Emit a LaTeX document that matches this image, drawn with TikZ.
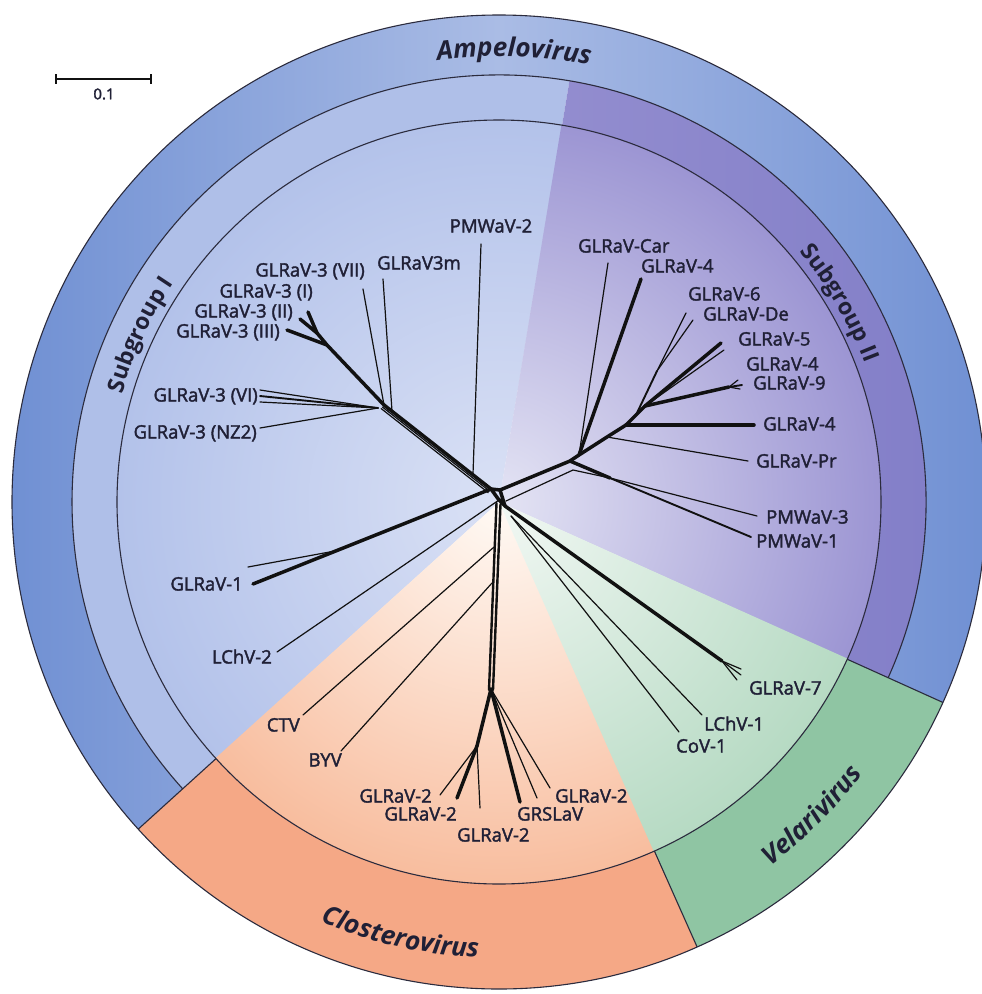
\documentclass[tikz,border=0pt]{standalone}
\usepackage{fontspec}
\setmainfont{Open Sans}
\newfontfamily\labfam{Open Sans}[FakeBold=2]
\usetikzlibrary{calc,decorations.text}
\definecolor{ampDark}{HTML}{7090D3}
\definecolor{ampLight}{HTML}{AABCE5}
\definecolor{sgIring}{HTML}{AFBFE8}
\definecolor{sgIin}{HTML}{DAE1F5}
\definecolor{sgIout}{HTML}{B3C2EA}
\definecolor{sgIIringL}{HTML}{958FD0}
\definecolor{sgIIringR}{HTML}{837FC8}
\definecolor{sgIIin}{HTML}{E4E4F4}
\definecolor{sgIIout}{HTML}{9C95D3}
\definecolor{closBand}{HTML}{F5A886}
\definecolor{closIn}{HTML}{FFFAF5}
\definecolor{closOut}{HTML}{F8BD9E}
\definecolor{velBand}{HTML}{8FC5A3}
\definecolor{velIn}{HTML}{F2F8F4}
\definecolor{velOut}{HTML}{B6DAC3}
\definecolor{rimcol}{HTML}{2B2B3D}
\definecolor{labcol}{HTML}{202036}
\definecolor{treecol}{HTML}{111111}
\newcommand{\labfont}{\labfam\fontsize{18.5}{20}\selectfont}
\newcommand{\genfont}{\fontsize{26}{30}\selectfont\bfseries\itshape\color{labcol}}
\newcommand{\sgfont}{\fontsize{23}{26}\selectfont\bfseries\color{labcol}}
\tikzset{
  rim/.style={draw=rimcol, line width=1.1pt},
  brthin/.style={draw=treecol, line width=1.2pt, line cap=round},
  brmed/.style={draw=treecol, line width=1.9pt, line cap=round},
  brtrunk/.style={draw=treecol, line width=2.4pt, line cap=round},
  brthick/.style={draw=treecol, line width=3.5pt, line cap=round, line join=round},
  lab/.style={font=\labfont, text=labcol, inner sep=0pt},
}
\begin{document}
\begin{tikzpicture}[x=1pt,y=1pt]
\useasboundingbox (0,0) rectangle (982,-994);
\fill[white] (0,0) rectangle (982,-994);

\begin{scope}[shift={(499,-502)}]
 % ---- Ampelovirus outer ring
 \begin{scope}
  \clip (-24.3:427) arc[start angle=-24.3,end angle=222.2,radius=427pt] -- (222.2:487) arc[start angle=222.2,end angle=-24.3,radius=487pt] -- cycle;
  \shade[left color=ampDark,right color=ampDark,middle color=ampLight] (-487,-487) rectangle (487,487);
 \end{scope}
 % ---- Closterovirus band
 \fill[closBand] (222.2:382) arc[start angle=222.2,end angle=294,radius=382pt] -- (294:487) arc[start angle=294,end angle=222.2,radius=487pt] -- cycle;
 % ---- Velarivirus band
 \fill[velBand] (294:382) arc[start angle=294,end angle=335.7,radius=382pt] -- (335.7:487) arc[start angle=335.7,end angle=294,radius=487pt] -- cycle;
 % ---- Subgroup rings
 \fill[sgIring] (80.5:382) arc[start angle=80.5,end angle=222.2,radius=382pt] -- (222.2:427) arc[start angle=222.2,end angle=80.5,radius=427pt] -- cycle;
 \begin{scope}
  \clip (-24.3:382) arc[start angle=-24.3,end angle=80.5,radius=382pt] -- (80.5:427) arc[start angle=80.5,end angle=-24.3,radius=427pt] -- cycle;
  \shade[left color=sgIIringL,right color=sgIIringR] (0,-427) rectangle (427,427);
 \end{scope}
 % ---- inner wedges
 \begin{scope}
  \clip (0,0) -- (80.5:383) arc[start angle=80.5,end angle=222.2,radius=383pt] -- cycle;
  \shade[inner color=sgIin,outer color=sgIout] (0,0) circle[radius=382pt];
 \end{scope}
 \begin{scope}
  \clip (0,0) -- (-24.3:383) arc[start angle=-24.3,end angle=80.6,radius=383pt] -- cycle;
  \shade[inner color=sgIIin,outer color=sgIIout] (0,0) circle[radius=382pt];
 \end{scope}
 \begin{scope}
  \clip (0,0) -- (222.1:383) arc[start angle=222.1,end angle=294.1,radius=383pt] -- cycle;
  \shade[inner color=closIn,outer color=closOut] (0,0) circle[radius=382pt];
 \end{scope}
 \begin{scope}
  \clip (0,0) -- (293.9:383) arc[start angle=293.9,end angle=335.8,radius=383pt] -- cycle;
  \shade[inner color=velIn,outer color=velOut] (0,0) circle[radius=382pt];
 \end{scope}
 % ---- rim lines
 \draw[rim] (0,0) circle[radius=382pt];
 \draw[rim] (0,0) circle[radius=487pt];
 \draw[rim] (-24.3:427) arc[start angle=-24.3,end angle=222.2,radius=427pt];
 \draw[rim] (222.2:382) -- (222.2:487);
 \draw[rim] (-24.3:382) -- (-24.3:487);
 \draw[rim] (-66:382) -- (-66:487);
 % ---- group names (curved)
 \path[decorate,decoration={text along path,text align=center,text={|\genfont|Ampelovirus}}]
   (118.1:446) arc[start angle=118.1,end angle=58.1,radius=446pt];
 \path[decorate,decoration={text along path,text align=center,text={|\genfont|Closterovirus}}]
   (227.2:456) arc[start angle=227.2,end angle=287.2,radius=456pt];
 \path[decorate,decoration={text along path,text align=center,text={|\genfont|Velarivirus}}]
   (-75:454) arc[start angle=-75,end angle=-15,radius=454pt];
 \path[decorate,decoration={text along path,text align=center,text={|\sgfont|Subgroup I}}]
   (185:392) arc[start angle=185,end angle=125,radius=392pt];
 \path[decorate,decoration={text along path,text align=center,text={|\sgfont|Subgroup II}}]
   (60.3:391) arc[start angle=60.3,end angle=0.3,radius=391pt];
\end{scope}

% ---- scale bar
\coordinate (sbL) at (56,-79);
\coordinate (sbR) at (151,-79);
\coordinate (sbLt) at (56,-74); \coordinate (sbLb) at (56,-84);
\coordinate (sbRt) at (151,-74); \coordinate (sbRb) at (151,-84);
\draw[draw=treecol,line width=1.5pt] (sbL) -- (sbR);
\draw[draw=treecol,line width=1.5pt] (sbLt) -- (sbLb);
\draw[draw=treecol,line width=1.5pt] (sbRt) -- (sbRb);
\node[font=\labfam\fontsize{15}{16}\selectfont, text=labcol, inner sep=0pt] (scalelab) at (104,-94) {0.1};

% ---- hubs
\coordinate (hA) at (491,-489);
\coordinate (hB) at (500,-490);
\coordinate (hC) at (499,-500);
\coordinate (hD) at (505,-506);
\draw[brthick] (hA) -- (hB) -- (hD) -- (hC) -- cycle;

% ---- Subgroup I
\coordinate (sA) at (384,-405);
\coordinate (sAp) at (382.4,-407.0); \coordinate (hAp) at (489.4,-491.0);
\coordinate (sAq) at (381.2,-408.6); \coordinate (hAq) at (488.2,-492.6);
\draw[brthin] (hAp) -- (sAp);
\draw[brthin] (hAq) -- (sAq);
\draw[brthick] (hA) -- (sA);
\coordinate (pmtwoJ) at (473,-474); \coordinate (pmtwoE) at (481,-244);
\draw[brthin] (pmtwoJ) -- (pmtwoE);
\coordinate (sAb) at (392,-411); \coordinate (gthreemE) at (383,-279);
\draw[brthin] (sAb) -- (gthreemE);
\coordinate (gviiE) at (363,-289);
\draw[brthin] (sA) -- (gviiE);
\coordinate (tI) at (327,-345); \coordinate (uI) at (317,-333);
\coordinate (gIE) at (308,-312); \coordinate (gIIE) at (300,-319); \coordinate (gIIIE) at (287,-330);
\draw[brthick] (sA) -- (tI) -- (uI);
\draw[brthick] (uI) -- (gIE);
\draw[brthick] (uI) -- (gIIE);
\draw[brthick] (tI) -- (gIIIE);
\coordinate (viJ) at (378,-408);
\coordinate (gviaE) at (260,-390); \coordinate (gvibE) at (260,-396); \coordinate (gvicE) at (260,-402);
\draw[brthin] (viJ) -- (gviaE);
\draw[brmed] (viJ) -- (gvibE);
\draw[brthin] (viJ) -- (gvicE);
\coordinate (nzE) at (260,-428);
\draw[brthin] (viJ) -- (nzE);

% ---- lower left
\coordinate (glone) at (253,-584);
\draw[brthick] (hA) -- (glone);
\coordinate (gloneJ) at (335,-551); \coordinate (gloneB) at (248,-567);
\draw[brthin] (gloneJ) -- (gloneB);
\coordinate (lchtwoE) at (277,-652);
\draw[brthin] (hC) -- (lchtwoE);

% ---- Subgroup II
\coordinate (aa) at (570,-461);
\coordinate (bb) at (579,-455);
\coordinate (prJ) at (607,-437);
\coordinate (cc) at (626,-425);
\coordinate (ff) at (636,-415);
\coordinate (dd) at (645,-406);
\draw[brthick] (hB) -- (aa) -- (bb) -- (prJ) -- (cc) -- (ff) -- (dd);
\coordinate (hBl) at (506,-501); \coordinate (aal) at (573,-470);
\coordinate (pp) at (610,-478);
\draw[brthin] (hBl) -- (aal) -- (pp);
\draw[brthick] (aa) -- (pp);
\coordinate (pmthreeE) at (757,-516); \coordinate (pmoneE) at (751,-537);
\draw[brthin] (pp) -- (pmthreeE);
\draw[brmed] (pp) -- (pmoneE);
\coordinate (carE) at (608,-263);
\draw[brthin] (bb) -- (carE);
\coordinate (gfouraE) at (641,-279);
\draw[brthick] (bb) -- (gfouraE);
\coordinate (prE) at (748,-461);
\draw[brthin] (prJ) -- (prE);
\coordinate (gfourcE) at (754,-425);
\draw[brthick] (cc) -- (gfourcE);
\coordinate (ee) at (657,-371);
\coordinate (gsixE) at (686,-313); \coordinate (gdeE) at (693,-320);
\draw[brmed] (ff) -- (ee);
\draw[brthin] (ee) -- (gsixE);
\draw[brthin] (ee) -- (gdeE);
\coordinate (gfiveE) at (721,-343); \coordinate (gfivebE) at (724,-350);
\draw[brthick] (dd) -- (gfiveE);
\draw[brthin] (dd) -- (gfivebE);
\coordinate (hh) at (729,-387);
\coordinate (gfourbE) at (738,-380); \coordinate (gnineE) at (742,-385); \coordinate (gninecE) at (740,-389);
\draw[brthick] (dd) -- (hh);
\draw[brthin] (hh) -- (gfourbE);
\draw[brmed] (hh) -- (gnineE);
\draw[brthin] (hh) -- (gninecE);

% ---- Velarivirus
\coordinate (gsevn) at (722,-661);
\draw[brthick] (hD) -- (gsevn);
\coordinate (gsaE) at (741,-669); \coordinate (gsbE) at (741,-675); \coordinate (gscE) at (737,-680);
\draw[brthin] (gsevn) -- (gsaE);
\draw[brthin] (gsevn) -- (gsbE);
\draw[brthin] (gsevn) -- (gscE);
\coordinate (vJ) at (511,-516);
\coordinate (lchoneE) at (702,-715); \coordinate (covoneE) at (679,-732);
\draw[brthin] (vJ) -- (lchoneE);
\draw[brthin] (vJ) -- (covoneE);

% ---- Closterovirus
\coordinate (ta) at (496.5,-503); \coordinate (tb) at (500.5,-504);
\coordinate (ka) at (489,-690); \coordinate (kb) at (493,-690);
\coordinate (kk) at (491,-689);
\draw[brtrunk] (ta) -- (ka);
\draw[brtrunk] (tb) -- (kb);
\coordinate (ctvJ) at (494,-547); \coordinate (ctvE) at (303,-715);
\draw[brthin] (ctvJ) -- (ctvE);
\coordinate (byvJ) at (492,-583); \coordinate (byvE) at (341,-751);
\draw[brthin] (byvJ) -- (byvE);
\coordinate (ll) at (477,-746);
\draw[brthick] (kk) -- (ll);
\coordinate (gtwobE) at (457,-798); \coordinate (gtwoaE) at (440,-795); \coordinate (gtwocE) at (480,-808);
\draw[brthick] (ll) -- (gtwobE);
\draw[brthin] (ll) -- (gtwoaE);
\draw[brthin] (ll) -- (gtwocE);
\coordinate (grsE) at (520,-802); \coordinate (xoneE) at (537,-798); \coordinate (gtwodE) at (550,-788);
\draw[brthick] (kk) -- (grsE);
\draw[brthin] (kk) -- (xoneE);
\draw[brthin] (kk) -- (gtwodE);

% ---- labels right side
\node[lab,anchor=base west] (LCar) at (578,-252.5) {GLRaV-Car};
\node[lab,anchor=base west] (LFourA) at (641,-272.5) {GLRaV-4};
\node[lab,anchor=base west] (LSix) at (688,-300.5) {GLRaV-6};
\node[lab,anchor=base west] (LDe) at (703,-320.5) {GLRaV-De};
\node[lab,anchor=base west] (LFive) at (738,-345.5) {GLRaV-5};
\node[lab,anchor=base west] (LFourB) at (746,-370.5) {GLRaV-4};
\node[lab,anchor=base west] (LNine) at (753,-389.5) {GLRaV-9};
\node[lab,anchor=base west] (LFourC) at (763,-430.5) {GLRaV-4};
\node[lab,anchor=base west] (LPr) at (756,-467.5) {GLRaV-Pr};
\node[lab,anchor=base west] (LPmThree) at (766,-523.5) {PMWaV-3};
\node[lab,anchor=base west] (LPmOne) at (756,-547.5) {PMWaV-1};
\node[lab,anchor=base west] (LSeven) at (749,-694.5) {GLRaV-7};
\node[lab,anchor=base west] (LLchOne) at (704,-730.5) {LChV-1};
\node[lab,anchor=base west] (LCovOne) at (676,-752.5) {CoV-1};
\node[lab,anchor=base west] (LTwoD) at (555,-802.5) {GLRaV-2};
\node[lab,anchor=base west] (LGrs) at (517,-820.5) {GRSLaV};
\node[lab,anchor=base west] (LTwoC) at (457,-841.5) {GLRaV-2};
\node[lab,anchor=base west] (LThreeM) at (377,-269.5) {GLRaV3m};
\node[lab,anchor=base] (LPmTwo) at (491,-232.5) {PMWaV-2};
% ---- labels left side
\node[lab,anchor=base east] (LVII) at (365,-276.5) {GLRaV-3 (VII)};
\node[lab,anchor=base east] (LI) at (313,-297.5) {GLRaV-3 (I)};
\node[lab,anchor=base east] (LII) at (293,-317.5) {GLRaV-3 (II)};
\node[lab,anchor=base east] (LIII) at (280,-337.5) {GLRaV-3 (III)};
\node[lab,anchor=base east] (LVI) at (258,-401.5) {GLRaV-3 (VI)};
\node[lab,anchor=base east] (LNZ) at (257,-438.5) {GLRaV-3 (NZ2)};
\node[lab,anchor=base east] (LOne) at (243,-590.5) {GLRaV-1};
\node[lab,anchor=base east] (LLchTwo) at (272,-663.5) {LChV-2};
\node[lab,anchor=base east] (LCtv) at (300,-731.5) {CTV};
\node[lab,anchor=base east] (LByv) at (342,-766.5) {BYV};
\node[lab,anchor=base east] (LTwoA) at (432,-802.5) {GLRaV-2};
\node[lab,anchor=base east] (LTwoB) at (457,-820.5) {GLRaV-2};
\end{tikzpicture}
\end{document}
